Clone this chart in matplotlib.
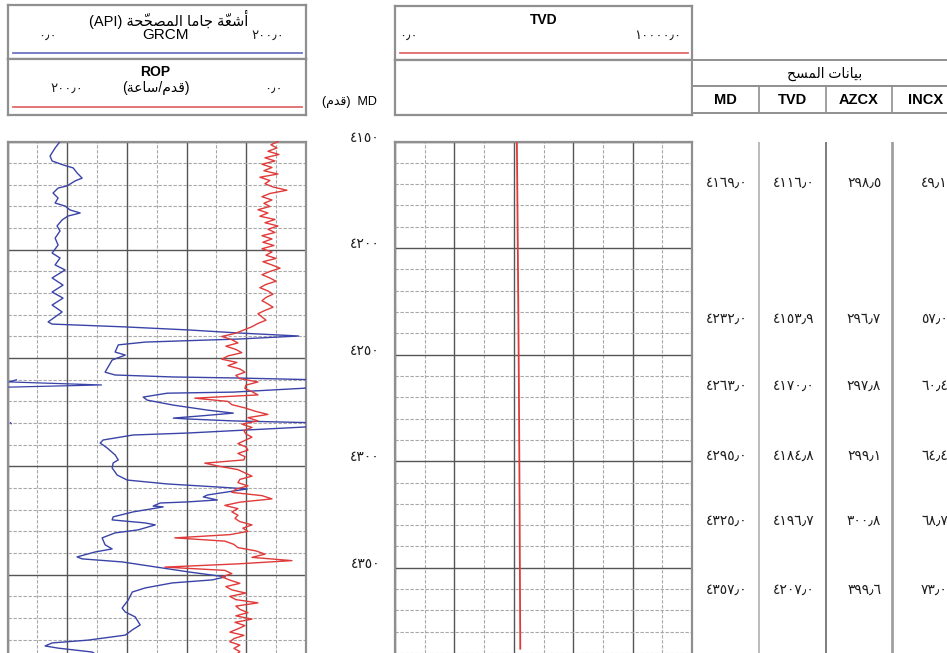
import numpy as np
import matplotlib
matplotlib.use("Agg")
import matplotlib.pyplot as plt
import matplotlib.transforms as mtransforms

plt.rcParams['font.family'] = ['Liberation Sans', 'DejaVu Sans']

W, H = 947, 653
TOP_Y = 141.5
PX_PER_FT = 2.166
DEPTH_TOP = 4150
DEPTH_BOT = DEPTH_TOP + (H - TOP_Y) / PX_PER_FT

# ---- data ----
gr_depth = [4150.0, 4153.0, 4156.7, 4159.0, 4160.8, 4162.2, 4164.5, 4166.9, 4168.2, 4170.5,
            4171.5, 4173.8, 4176.1, 4178.4, 4179.8, 4181.6, 4183.0, 4184.4, 4186.2, 4189.0,
            4191.3, 4194.6, 4197.8, 4201.5, 4203.8, 4207.0, 4209.3, 4213.0, 4216.3, 4219.5,
            4222.3, 4225.5, 4228.7, 4233.3, 4234.3, 4235.6, 4237.0, 4238.4, 4239.8, 4241.2,
            4242.6, 4243.9, 4247.2, 4248.6, 4250.9, 4256.5, 4257.8, 4258.7, 4259.2, 4260.0,
            4261.0, 4262.4, 4263.4, 4263.9, 4265.7, 4266.2, 4268.0, 4269.4, 4271.7, 4274.0,
            4275.4, 4276.7, 4277.7, 4278.1, 4279.0, 4279.8, 4280.3, 4281.8, 4282.7, 4284.6,
            4285.5, 4287.8, 4289.2, 4291.5, 4294.7, 4297.0, 4298.4, 4300.7, 4304.0, 4306.3,
            4308.1, 4309.5, 4310.4, 4311.8, 4313.2, 4314.1, 4315.5, 4316.4, 4316.9, 4318.3,
            4318.7, 4321.0, 4323.3, 4324.7, 4326.1, 4327.0, 4329.3, 4330.7, 4333.0, 4336.2,
            4338.1, 4339.5, 4341.8, 4342.7, 4344.1, 4346.4, 4348.7, 4351.0, 4352.4, 4353.8,
            4356.1, 4358.0, 4361.7, 4365.4, 4367.2, 4369.5, 4373.2, 4375.5, 4377.9, 4380.2,
            4381.5, 4382.9, 4383.9, 4385.7, 4388.0]
gr_values = [35.2, 31.9, 28.5, 29.9, 37.2, 44.0, 46.6, 50.0, 45.3, 39.9,
             33.9, 30.5, 33.9, 31.9, 38.6, 41.9, 48.7, 40.6, 36.6, 33.2,
             35.2, 31.9, 33.9, 29.9, 35.2, 31.9, 38.6, 29.9, 37.2, 29.9,
             37.2, 29.9, 36.6, 27.2, 29.9, 78.9, 121.1, 154.7, 195.0, 154.7,
             92.3, 74.2, 72.1, 78.9, 70.1, 65.4, 72.1, 110.4, 154.7, 206.0,
             201.0, 263.0, 201.0, 199.0, 151.3, 107.0, 90.9, 93.6, 111.1, 133.9,
             151.3, 129.2, 111.1, 120.5, 151.3, 202.0, 202.5, 199.7, 174.2, 120.5,
             84.2, 64.1, 62.1, 66.8, 72.1, 74.2, 70.8, 70.1, 73.5, 80.2,
             107.0, 140.6, 160.7, 147.3, 133.9, 131.2, 140.6, 120.5, 102.3, 97.6,
             104.3, 84.2, 70.8, 70.1, 92.3, 99.0, 87.6, 72.1, 63.4, 65.4,
             70.1, 58.7, 46.6, 50.0, 76.8, 99.0, 121.1, 146.0, 137.2, 110.4,
             92.3, 83.6, 80.9, 76.8, 78.9, 85.6, 88.9, 83.6, 78.9, 54.0,
             29.9, 25.2, 33.9, 56.7, 62.0]

# ROP sampled every 1.5 ft from 4150
rop_step = 1.5
rop_values = [18.8, 23.5, 19.5, 25.5, 18.1, 27.5, 20.8, 29.5, 22.8, 28.2,
              18.8, 30.9, 24.2, 27.5, 22.1, 12.8, 24.2, 29.5, 22.8, 28.2,
              24.2, 32.2, 25.5, 30.9, 20.8, 27.5, 18.8, 25.5, 20.8, 29.5,
              22.8, 28.9, 21.5, 29.5, 22.8, 26.8, 20.1, 28.9, 22.8, 17.4,
              24.2, 29.5, 24.2, 20.1, 26.8, 30.9, 25.5, 22.1, 26.8, 29.5,
              25.5, 22.1, 27.5, 32.2, 29.5, 26.8, 32.2, 36.2, 41.6, 47.0,
              56.4, 49.7, 45.6, 53.7, 47.0, 43.0, 52.3, 56.4, 46.3, 52.3,
              44.3, 40.9, 47.0, 44.3, 32.2, 40.3, 40.9, 36.2, 32.2, 74.5,
              52.3, 49.7, 40.9, 34.2, 25.5, 38.9, 32.2, 43.0, 36.2, 41.6,
              40.3, 36.2, 40.9, 45.6, 40.3, 38.9, 45.6, 40.9, 41.6, 67.8,
              57.7, 45.6, 40.9, 36.2, 44.3, 45.6, 38.9, 47.0, 49.7, 29.5,
              22.8, 44.3, 54.4, 45.6, 49.7, 45.6, 47.6, 44.3, 36.2, 42.3,
              38.9, 51.0, 87.9, 54.4, 48.3, 45.6, 33.6, 27.5, 36.2, 9.4,
              45.6, 94.6, 54.4, 49.7, 56.4, 51.0, 44.3, 53.7, 49.7, 40.3,
              51.0, 47.0, 32.2, 47.0, 44.3, 38.9, 47.0, 36.2, 47.6, 40.9,
              45.6, 51.0, 41.6, 48.3, 51.0, 44.3, 48.3, 44.3, 47.0]

survey_md = [4169.0, 4232.0, 4263.0, 4295.0, 4325.0, 4357.0]
survey_tvd = [4116.0, 4153.9, 4170.0, 4184.8, 4196.7, 4207.0]
survey_azcx = [298.5, 296.7, 297.8, 299.1, 300.8, 399.6]
survey_incx = [49.1, 57.0, 60.4, 64.4, 68.7, 73.0]

tvd_md = [4150.0] + survey_md + [4388.0]
tvd_values = [4103.0] + survey_tvd + [4218.0]

depth_labels = [4150, 4200, 4250, 4300, 4350]
gr_scale = (0.0, 200.0)
rop_scale = (200.0, 0.0)
tvd_scale = (0.0, 10000.0)

# ---- minimal arabic shaping (presentation forms, visual order) ----
FORMS = {
    'ا': ('\ufe8d', '\ufe8e', None, None),
    'أ': ('\ufe83', '\ufe84', None, None),
    'ب': ('\ufe8f', '\ufe90', '\ufe91', '\ufe92'),
    'ة': ('\ufe93', '\ufe94', None, None),
    'ت': ('\ufe95', '\ufe96', '\ufe97', '\ufe98'),
    'ج': ('\ufe9d', '\ufe9e', '\ufe9f', '\ufea0'),
    'ح': ('\ufea1', '\ufea2', '\ufea3', '\ufea4'),
    'د': ('\ufea9', '\ufeaa', None, None),
    'س': ('\ufeb1', '\ufeb2', '\ufeb3', '\ufeb4'),
    'ش': ('\ufeb5', '\ufeb6', '\ufeb7', '\ufeb8'),
    'ص': ('\ufeb9', '\ufeba', '\ufebb', '\ufebc'),
    'ع': ('\ufec9', '\ufeca', '\ufecb', '\ufecc'),
    'ق': ('\ufed5', '\ufed6', '\ufed7', '\ufed8'),
    'ل': ('\ufedd', '\ufede', '\ufedf', '\ufee0'),
    'م': ('\ufee1', '\ufee2', '\ufee3', '\ufee4'),
    'ن': ('\ufee5', '\ufee6', '\ufee7', '\ufee8'),
    'ي': ('\ufef1', '\ufef2', '\ufef3', '\ufef4'),
}


def ar(s):
    units = []
    for ch in s:
        if ch == '\u0651' and units:
            units[-1][1] += ch
        else:
            units.append([ch, ''])
    out = []
    for i, (c, m) in enumerate(units):
        if c not in FORMS:
            out.append(m + c)
            continue
        iso, fin, ini, med = FORMS[c]
        prev = units[i - 1][0] if i > 0 else None
        nxt = units[i + 1][0] if i < len(units) - 1 else None
        pj = prev in FORMS and FORMS[prev][2] is not None
        nj = nxt in FORMS and ini is not None
        g = med if (pj and nj) else fin if pj else ini if nj else iso
        # mark goes before its base in visual order so it lands on the base
        out.append(m + g)
    return ''.join(reversed(out))


AR_DIGITS = str.maketrans('0123456789.', '٠١٢٣٤٥٦٧٨٩٫')


def ar_num(v, fmt='{:.1f}'):
    return fmt.format(v).translate(AR_DIGITS)


def rect(x0, y0, x1, y1):
    return [x0 / W, 1 - y1 / H, (x1 - x0) / W, (y1 - y0) / H]


def ftext(x, y, s, **kw):
    kw.setdefault('ha', 'center')
    kw.setdefault('va', 'center')
    fig.text(x / W, 1 - y / H, s, **kw)


FRAME = '#8f8f8f'
MAJOR = '#555555'
MINOR = '#a8a8a8'
BLUE = '#3a44a8'
RED = '#e03a3a'
NUM = '#1e1e1e'


def style_track(ax, lo, hi):
    ax.set_xlim(lo, hi)
    ax.set_ylim(DEPTH_BOT, DEPTH_TOP)
    ax.set_xticks(np.linspace(lo, hi, 6))
    ax.set_xticks(np.linspace(lo, hi, 11), minor=True)
    ax.set_yticks(np.arange(4150, 4400, 50))
    ax.set_yticks(np.arange(4150, 4400, 10), minor=True)
    ax.grid(which='major', color=MAJOR, lw=1.0, ls='-')
    ax.grid(which='minor', color=MINOR, lw=0.8, ls=(0, (3, 1.5)))
    ax.tick_params(which='both', length=0, labelbottom=False, labelleft=False)
    for k in ('top', 'left', 'right'):
        ax.spines[k].set_color(FRAME)
        ax.spines[k].set_linewidth(1.6)
    ax.spines['bottom'].set_visible(False)


def header_box(x0, y0, x1, y1):
    a = fig.add_axes(rect(x0, y0, x1, y1))
    a.set_xlim(0, 1)
    a.set_ylim(0, 1)
    a.set_xticks([])
    a.set_yticks([])
    for sp in a.spines.values():
        sp.set_color(FRAME)
        sp.set_linewidth(1.6)
    return a


fig = plt.figure(figsize=(W / 100, H / 100), dpi=100)
fig.patch.set_facecolor('white')

# ---- GR / ROP track ----
ax_gr = fig.add_axes(rect(7.5, TOP_Y, 306, H))
style_track(ax_gr, *gr_scale)
gr = np.array(gr_values)
ax_gr.plot(gr, gr_depth, color=BLUE, lw=1.0, zorder=4)
# wrapped (backup) part of the gamma ray above full scale
ax_gr.plot(np.where(gr > gr_scale[1], gr - gr_scale[1], np.nan), gr_depth,
           color=BLUE, lw=0.9, zorder=4)

ax_rop = ax_gr.twiny()
ax_rop.set_xlim(*rop_scale)
ax_rop.set_ylim(DEPTH_BOT, DEPTH_TOP)
ax_rop.axis('off')
rop_depth = DEPTH_TOP + rop_step * np.arange(len(rop_values))
ax_rop.plot(rop_values, rop_depth, color=RED, lw=1.0, zorder=3)

# ---- TVD track ----
ax_tvd = fig.add_axes(rect(395, TOP_Y, 692, H))
style_track(ax_tvd, *tvd_scale)
ax_tvd.plot(tvd_values, tvd_md, color=RED, lw=1.3, zorder=4)
lab_tr = mtransforms.blended_transform_factory(ax_tvd.transAxes, ax_tvd.transData)
for d in depth_labels:
    ax_tvd.text(-15 / 297, d, ar_num(d, '{:.0f}'), transform=lab_tr,
                ha='right', va='baseline', fontsize=10, color=NUM)

# ---- survey table ----
ax_tab = fig.add_axes(rect(692, TOP_Y, 959, H))
ax_tab.set_xlim(0, 4)
ax_tab.set_ylim(DEPTH_BOT, DEPTH_TOP)
ax_tab.axis('off')
for xc, c, lw in [(1, '#b0b0b0', 1.2), (2, '#666666', 1.2), (3, '#a0a0a0', 2.0)]:
    ax_tab.axvline(xc, color=c, lw=lw)
for col, vals in enumerate([survey_md, survey_tvd, survey_azcx, survey_incx]):
    for md, v in zip(survey_md, vals):
        ax_tab.text(col + 1 - 0.165, md, ar_num(v), ha='right', va='center',
                    fontsize=10, color=NUM)

# ---- headers ----
h1 = header_box(7.5, 5, 306, 59)
h1.plot([0.018, 0.987], [0.11, 0.11], color='#6d74c4', lw=1.3)
ftext(169, 19, '(API) ' + ar('أشعّة جاما المصحّحة'), fontsize=10.5)
ftext(165, 35, 'GRCM', fontsize=11)
ftext(47, 36, ar_num(gr_scale[0]), fontsize=9.5, color=NUM)
ftext(268, 36, ar_num(gr_scale[1]), fontsize=9.5, color=NUM)

h2 = header_box(7.5, 59, 306, 115)
h2.plot([0.018, 0.987], [0.14, 0.14], color='#e06a6a', lw=1.3)
ftext(155, 72, 'ROP', fontsize=10, fontweight='bold')
ftext(156, 88, '(' + ar('ساعة') + '/' + ar('قدم') + ')', fontsize=10)
ftext(67, 89, ar_num(rop_scale[0]), fontsize=9.5, color=NUM)
ftext(273, 89, ar_num(rop_scale[1]), fontsize=9.5, color=NUM)

h3 = header_box(395, 6, 692, 60)
h3.plot([0.017, 0.987], [0.13, 0.13], color='#e06a6a', lw=1.3)
ftext(544, 20, 'TVD', fontsize=10, fontweight='bold')
ftext(408, 36, ar_num(tvd_scale[0]), fontsize=9.5, color=NUM)
ftext(658, 36, ar_num(tvd_scale[1]), fontsize=9.5, color=NUM)
header_box(395, 60, 692, 115)

ftext(377, 102, '(' + ar('قدم') + ')  MD', fontsize=9, ha='right')

sh = fig.add_axes(rect(692, 60, 959, 113))
sh.set_xlim(0, 4)
sh.set_ylim(0, 1)
sh.set_xticks([])
sh.set_yticks([])
for k, sp in sh.spines.items():
    sp.set_color(FRAME)
    sp.set_linewidth(1.4)
sh.spines['right'].set_visible(False)
sh.axhline(0.509, color=FRAME, lw=1.4)
for xc in (1, 2, 3):
    sh.plot([xc, xc], [0, 0.509], color=FRAME, lw=1.2)
sh.text(1.98, 0.73, ar('بيانات المسح'), ha='center', va='center', fontsize=10)
for i, name in enumerate(['MD', 'TVD', 'AZCX', 'INCX']):
    sh.text(i + 0.5, 0.25, name, ha='center', va='center', fontsize=10.5, fontweight='bold')

fig.savefig('out.png', dpi=100, facecolor='white')
